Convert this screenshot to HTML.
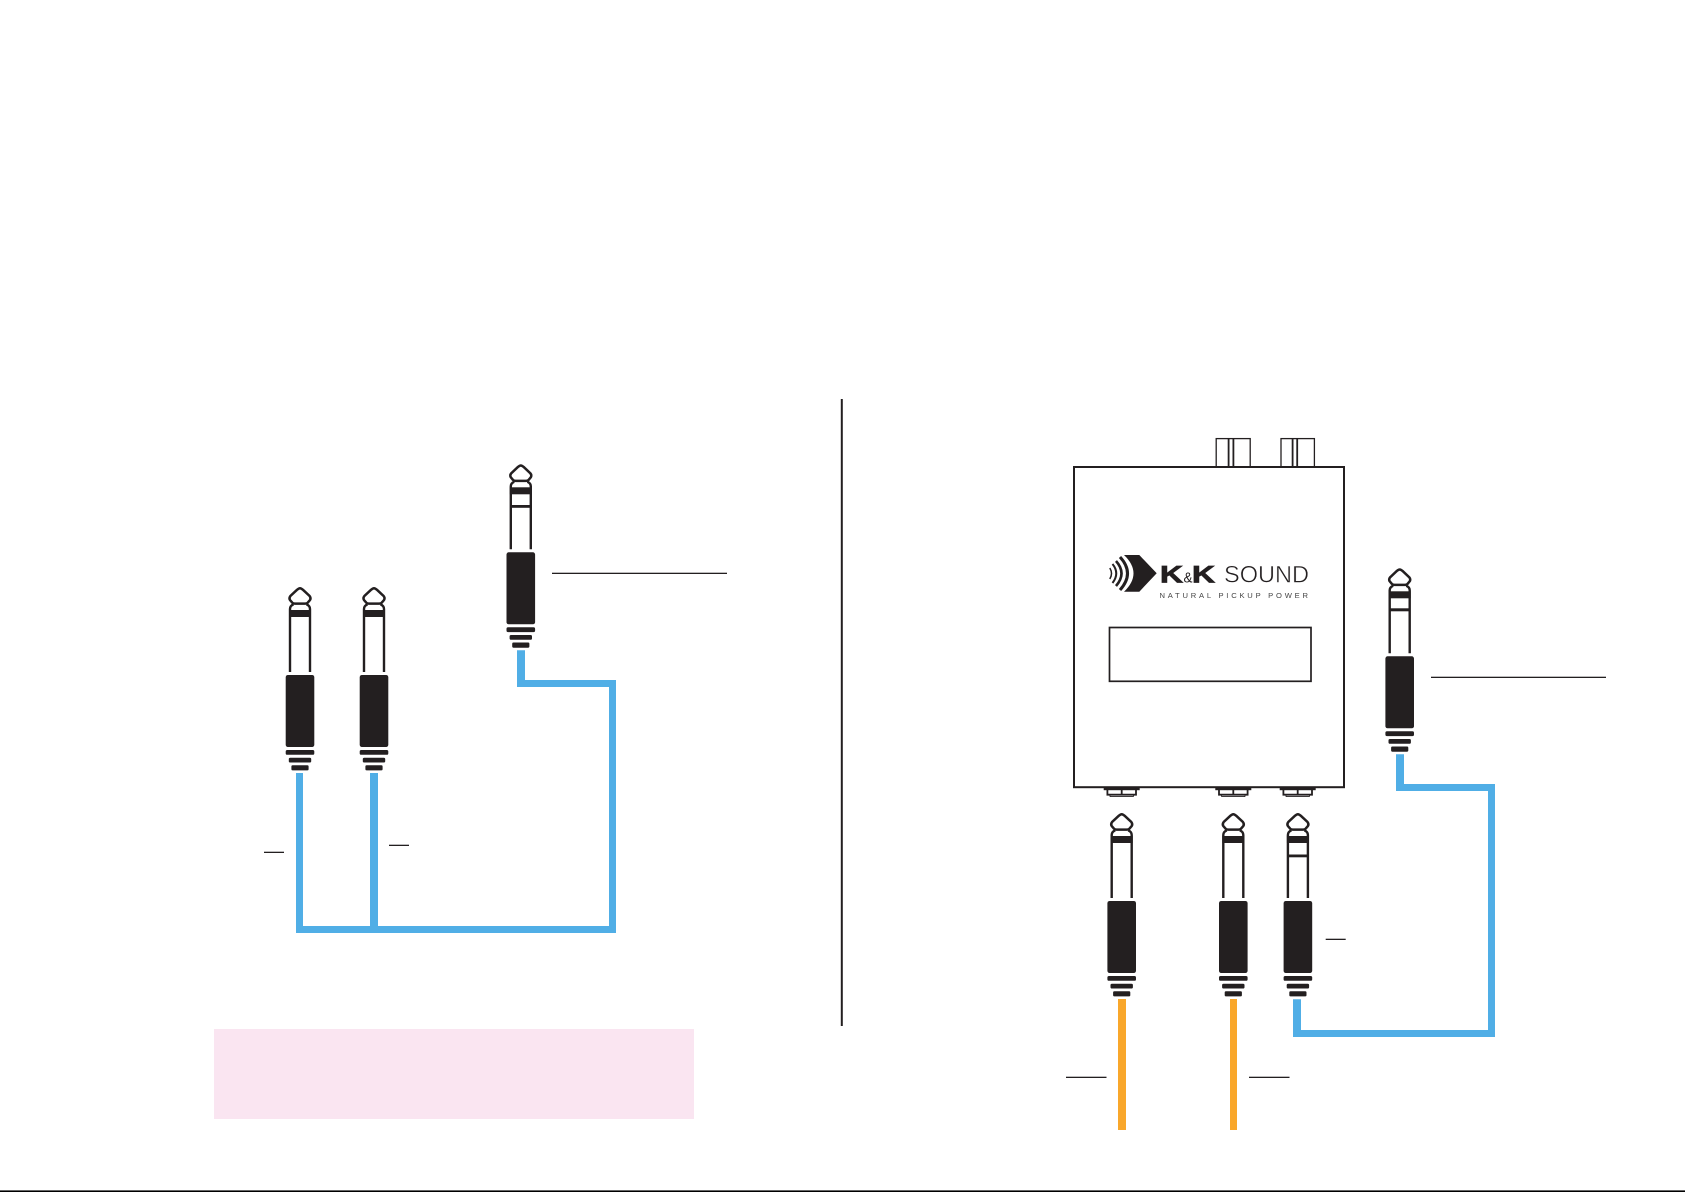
<!DOCTYPE html>
<html>
<head>
<meta charset="utf-8">
<title>K&amp;K Sound wiring diagram</title>
<style>
html,body{margin:0;padding:0;background:#fff;width:1685px;height:1192px;overflow:hidden}
svg{display:block}
</style>
</head>
<body>
<svg xmlns="http://www.w3.org/2000/svg" width="1685" height="1192" viewBox="0 0 1685 1192">
<defs>
<g id="plug">
  <path d="M0,1.2 Q1.2,1.2 3,2.8 L9.6,9 Q11.2,11 10,13 L7.8,15.6 Q7,16.6 5,16.6 L-5,16.6 Q-7,16.6 -7.8,15.6 L-10,13 Q-11.2,11 -9.6,9 L-3,2.8 Q-1.2,1.2 0,1.2 Z" fill="#fff" stroke="#231f20" stroke-width="2.5"/>
  <path d="M-10,85 L-10,22 Q-10,18.8 -6.5,17.4 M10,85 L10,22 Q10,18.8 6.5,17.4" fill="none" stroke="#231f20" stroke-width="2.4"/>
  <rect x="-11" y="23" width="22" height="7" fill="#231f20"/>
  <rect x="-14.3" y="88" width="28.6" height="72" rx="2.2" fill="#231f20"/>
  <rect x="-14.3" y="163" width="28.6" height="4.8" rx="1.6" fill="#231f20"/>
  <rect x="-11.2" y="170.7" width="22.4" height="4.8" rx="1.4" fill="#231f20"/>
  <rect x="-8.6" y="178.2" width="17.2" height="5.2" rx="1.2" fill="#231f20"/>
</g>
<g id="jack">
  <rect x="-18" y="0" width="36" height="2.8" fill="#231f20"/>
  <path d="M-14.3,1 L-14.3,7.3 L14.3,7.3 L14.3,1 M0,1 L0,7.3" fill="none" stroke="#231f20" stroke-width="1.8"/>
  <path d="M-11.7,9.2 L11.7,9.2" fill="none" stroke="#231f20" stroke-width="0.9"/>
  <path d="M-11.7,7 L-11.7,9.5 M11.7,7 L11.7,9.5" fill="none" stroke="#231f20" stroke-width="0.8"/>
</g>
</defs>

<!-- left blue cables -->
<path d="M296,773 H303 V926 H370 V773 H378 V926 H609 V687 H517 V650.3 H525 V680 H616 V933 H296 Z" fill="#50aee6"/>

<!-- left plugs -->
<use href="#plug" x="300" y="587"/>
<use href="#plug" x="374" y="587"/>
<use href="#plug" x="520.8" y="464.3"/>
<rect x="510.8" y="505" width="20" height="2.8" fill="#231f20"/>

<!-- left ticks -->
<g fill="#231f20">
  <rect x="264" y="851.7" width="20" height="1.3"/>
  <rect x="389" y="844.7" width="20" height="1.3"/>
  <rect x="552" y="572.7" width="175" height="1.3"/>
  <rect x="840.8" y="399" width="2" height="627"/>
</g>

<!-- pink box -->
<rect x="214" y="1029" width="480" height="90" fill="#fae5f1"/>

<!-- device -->
<g fill="none" stroke="#231f20" stroke-width="1.3">
  <rect x="1216.2" y="438.6" width="34" height="29"/>
  <path d="M1228.6,438.6 V467 M1233.4,438.6 V467" stroke-width="1.8"/>
  <rect x="1281" y="438.6" width="33.4" height="29"/>
  <path d="M1292.6,438.6 V467 M1297.2,438.6 V467" stroke-width="1.8"/>
</g>
<rect x="1074" y="467" width="270" height="320.2" fill="#fff" stroke="#231f20" stroke-width="2"/>
<rect x="1109.5" y="627.5" width="201.5" height="53.8" fill="none" stroke="#231f20" stroke-width="1.7"/>

<use href="#jack" x="1121.7" y="787.4"/>
<use href="#jack" x="1233.3" y="787.4"/>
<use href="#jack" x="1297.7" y="787.4"/>

<!-- logo -->
<path d="M1124,555 L1139.3,555 L1156.7,573.3 L1139.3,591.7 L1124,591.7 Q1143,573.3 1124,555 Z" fill="#231f20"/>
<g fill="none" stroke="#231f20">
  <path d="M1120,557 Q1135,573.3 1120,590" stroke-width="3"/>
  <path d="M1116,561 Q1127,573.3 1116,586" stroke-width="2.6"/>
  <path d="M1112.5,564 Q1120,573.3 1112.5,583" stroke-width="2"/>
  <path d="M1109.8,568 Q1113.2,573.3 1109.8,579" stroke-width="1.5"/>
</g>
<g font-family="'Liberation Sans', sans-serif" fill="#231f20">
  <text x="1160" y="582.3" font-size="24.3" font-weight="700" stroke="#231f20" stroke-width="0.8" textLength="23" lengthAdjust="spacingAndGlyphs">K</text>
  <text x="1183.5" y="582.3" font-size="15" textLength="9" lengthAdjust="spacingAndGlyphs">&amp;</text>
  <text x="1192" y="582.3" font-size="24.3" font-weight="700" stroke="#231f20" stroke-width="0.8" textLength="23" lengthAdjust="spacingAndGlyphs">K</text>
  <text x="1224" y="582.3" font-size="24.5" stroke="#fff" stroke-width="0.5" textLength="85" lengthAdjust="spacingAndGlyphs">SOUND</text>
  <text x="1159.5" y="598.2" font-size="7.6" fill="#444" textLength="148.5">NATURAL PICKUP POWER</text>
</g>

<!-- right cables -->
<path d="M1396,754.3 H1404 V784 H1495 V1037 H1293 V999.3 H1301 V1030 H1488 V791 H1396 Z" fill="#50aee6"/>
<rect x="1118" y="999" width="8" height="131" fill="#f9a72b"/>
<rect x="1230" y="999" width="7" height="131" fill="#f9a72b"/>

<!-- right plugs -->
<use href="#plug" x="1399.7" y="568.3"/>
<rect x="1389.7" y="608.3" width="20" height="3" fill="#231f20"/>
<use href="#plug" x="1121.7" y="813"/>
<use href="#plug" x="1233.3" y="813"/>
<use href="#plug" x="1297.9" y="813"/>
<rect x="1287.9" y="854.5" width="20" height="2.8" fill="#231f20"/>

<!-- right ticks -->
<g fill="#231f20">
  <rect x="1431" y="676.7" width="175" height="1.3"/>
  <rect x="1325.7" y="938.7" width="20" height="1.3"/>
  <rect x="1066" y="1076.7" width="40.5" height="1.3"/>
  <rect x="1249" y="1076.7" width="40.5" height="1.3"/>
</g>

<!-- bottom rule -->
<rect x="0" y="1190.4" width="1685" height="1.6" fill="#000"/>
</svg>
</body>
</html>
